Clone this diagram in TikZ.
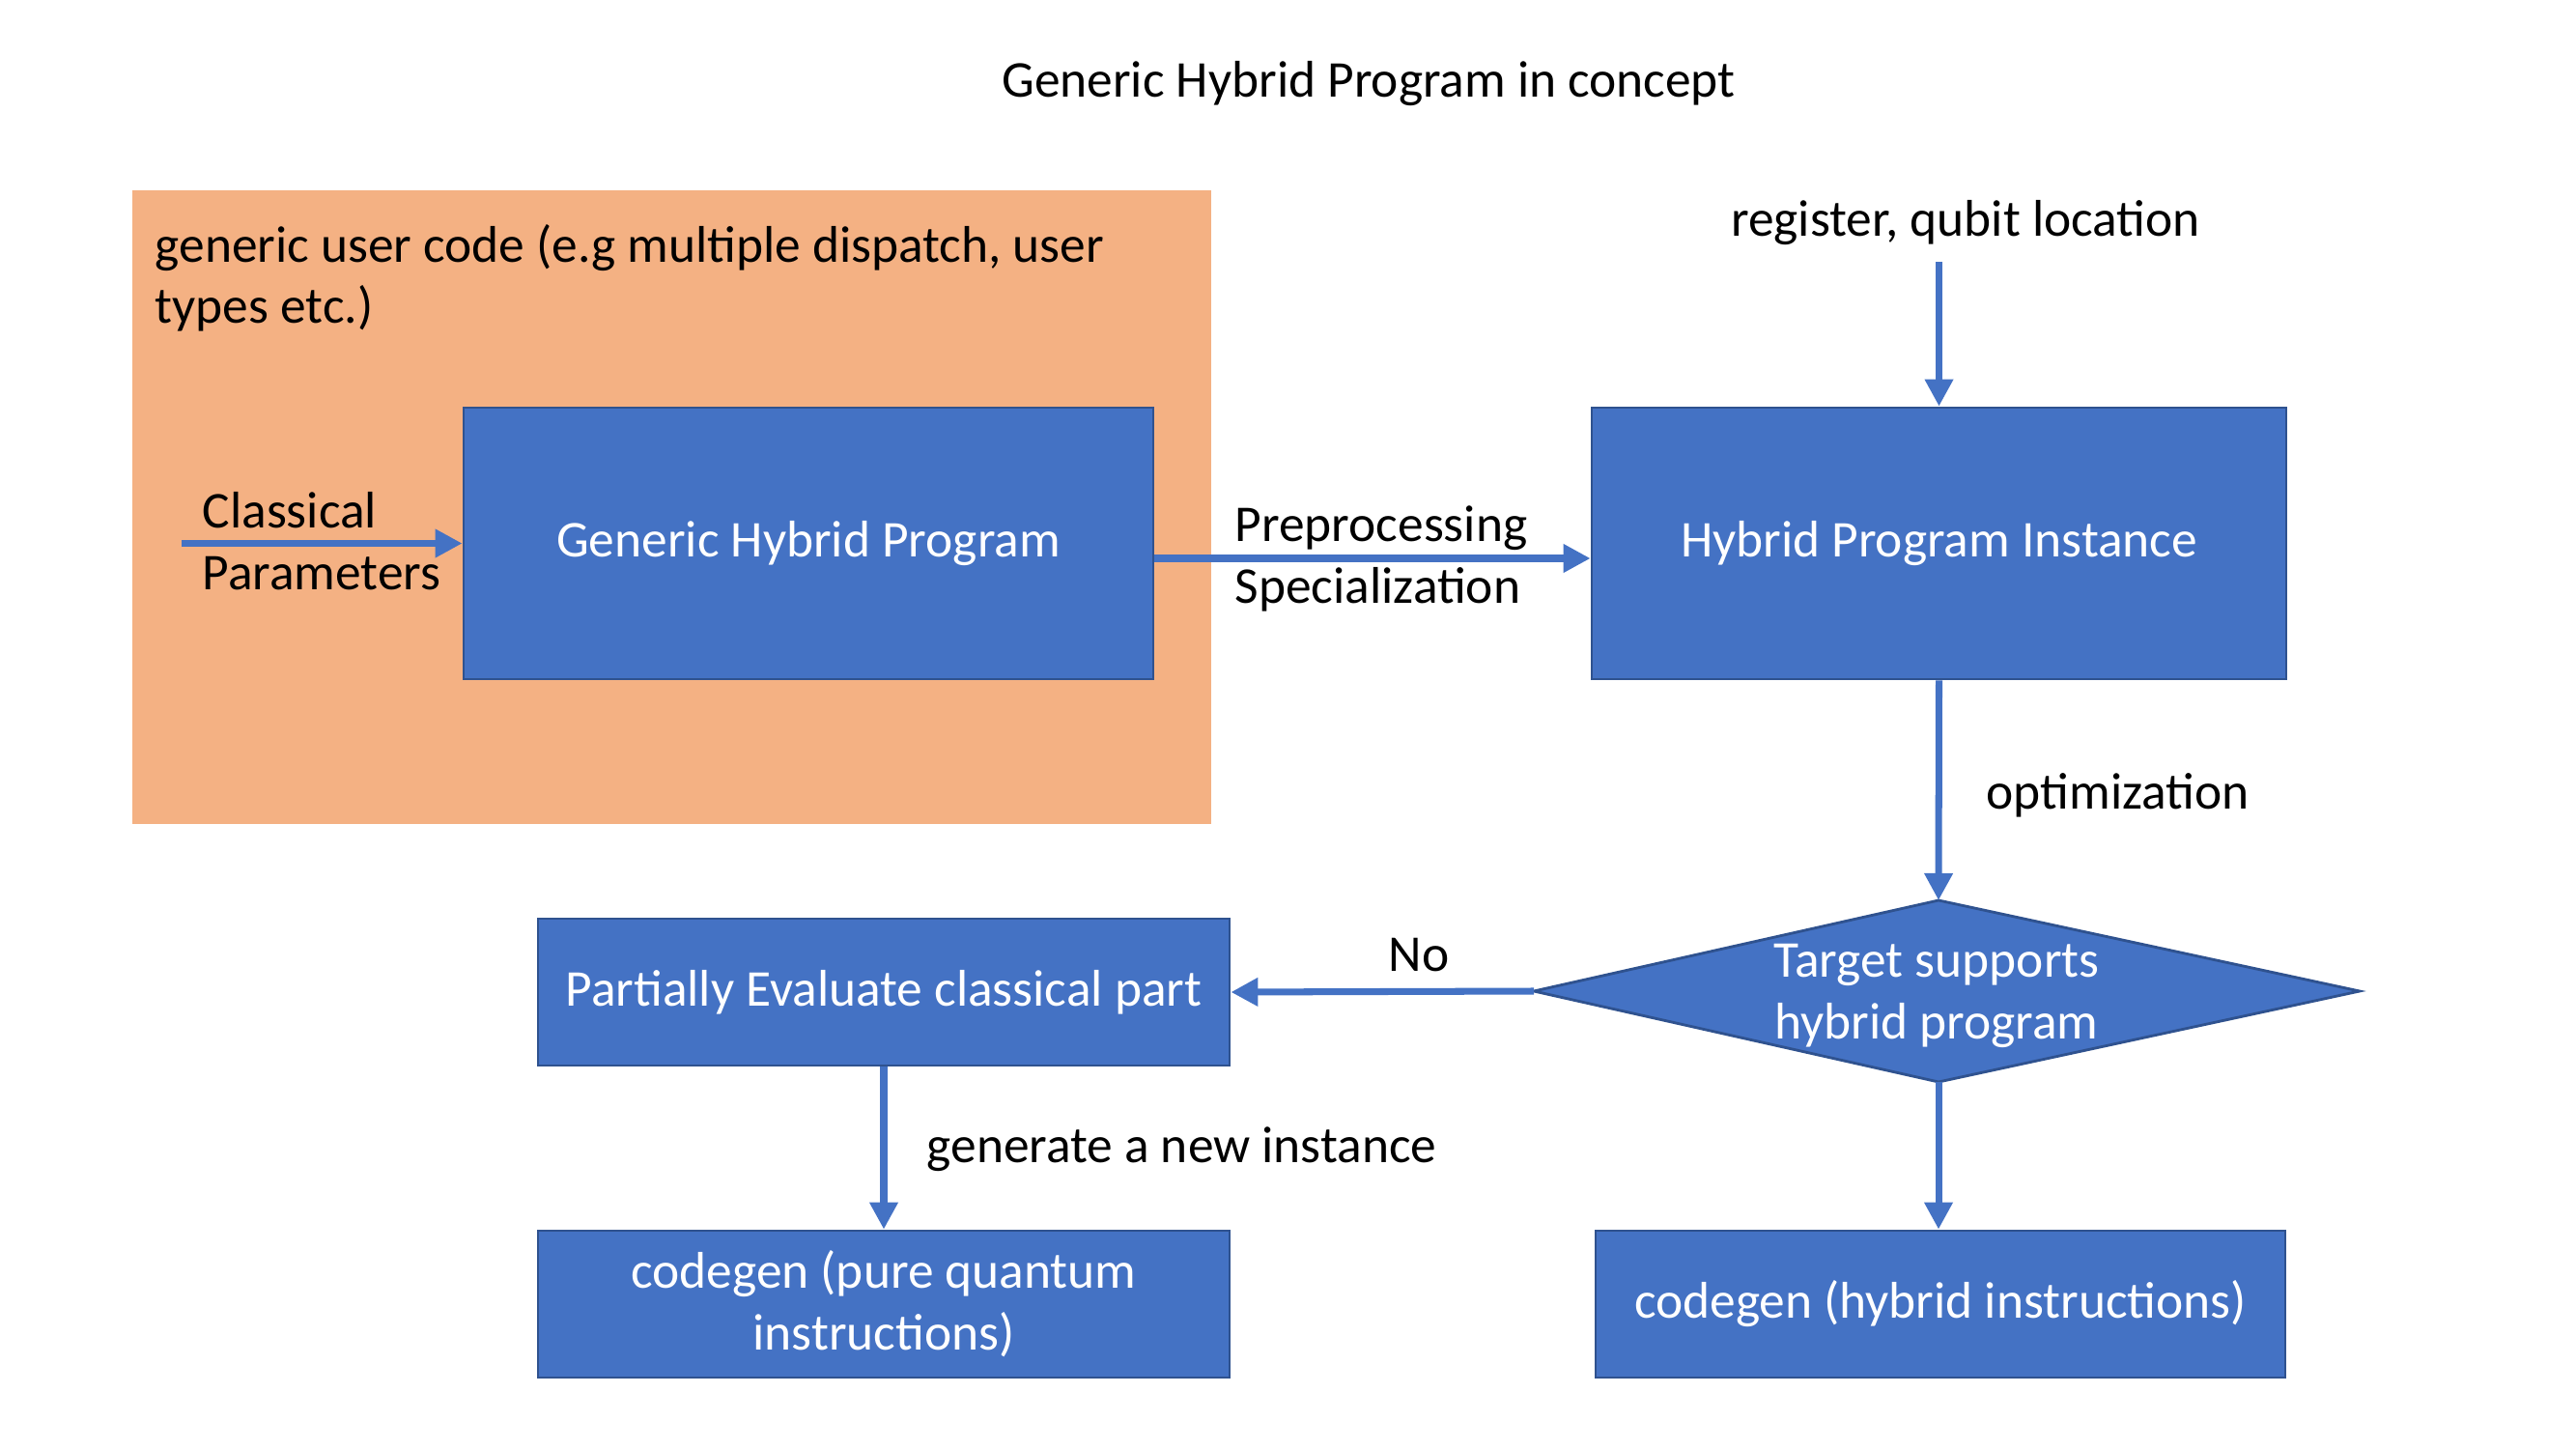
\documentclass[tikz,border=0pt]{standalone}
\usepackage{fontspec}
\setmainfont{Carlito}
\usepackage{xcolor}
\usetikzlibrary{arrows.meta}

\definecolor{boxblue}{HTML}{4472C4}
\definecolor{boxline}{HTML}{2F528F}
\definecolor{userorange}{HTML}{F4B183}

\tikzset{
  block/.style={draw=boxline, line width=0.8pt, fill=boxblue, text=white, inner sep=0pt, align=center},
  flow/.style={draw=boxblue, line width=2pt, -{Triangle[length=0.28cm,width=0.28cm]}},
  lbl/.style={inner sep=0pt, text=black},
}

\begin{document}
\begin{tikzpicture}[font=\fontsize{15.2}{18.2}\selectfont]
\useasboundingbox (0,0) rectangle (26.67,15);

\node[lbl, anchor=base] (title) at (14.17,13.99) {Generic Hybrid Program in concept};

% user code area
\fill[userorange] (1.37,6.47) rectangle (12.54,13.03);
\node[lbl, anchor=base west, align=left] (user) at (1.60,11.65) {generic user code (e.g multiple dispatch, user\\types etc.)};

% boxes
\node[block, minimum width=7.14cm, minimum height=2.81cm] (ghp) at (8.37,9.375) {Generic Hybrid Program};
\node[block, minimum width=7.19cm, minimum height=2.81cm] (hpi) at (20.075,9.375) {Hybrid Program Instance};
\node[block, minimum width=7.16cm, minimum height=1.52cm] (pe) at (9.15,4.73) {Partially Evaluate classical part};
\node[block, minimum width=7.16cm, minimum height=1.52cm] (cgq) at (9.15,1.50) {codegen (pure quantum\\instructions)};
\node[block, minimum width=7.14cm, minimum height=1.52cm] (cgh) at (20.09,1.50) {codegen (hybrid instructions)};

% decision
\coordinate (dn) at (20.07,5.68);
\coordinate (ds) at (20.07,3.80);
\coordinate (dw) at (15.88,4.74);
\coordinate (de) at (24.43,4.74);
\draw[draw=boxline, line width=0.8pt, fill=boxblue] (dn)--(de)--(ds)--(dw)--cycle;
\node[lbl, text=white, anchor=base, align=center] (dec) at (20.05,4.25) {Target supports\\hybrid program};

% labels
\node[lbl, anchor=base west, align=left] (cpar) at (2.09,8.90) {Classical\\Parameters};
\node[lbl, anchor=base west, align=left] (prep) at (12.78,8.76) {Preprocessing\\Specialization};
\node[lbl, anchor=base] (reg) at (20.35,12.55) {register, qubit location};
\node[lbl, anchor=base west] (opt) at (20.56,6.63) {optimization};
\node[lbl, anchor=base west] (no) at (14.37,4.95) {No};
\node[lbl, anchor=base west] (gen) at (9.59,2.97) {generate a new instance};

% arrows
\coordinate (cin) at (1.88,9.375);
\coordinate (rin) at (20.075,12.29);
\draw[flow] (cin) -- (ghp.west);
\draw[flow] ([yshift=-0.155cm]ghp.east) -- ([yshift=-0.155cm]hpi.west);
\draw[flow] (rin) -- (hpi.north);
\draw[flow] (hpi.south) -- (dn);
\draw[flow] (dw) -- (pe.east);
\draw[flow] (pe.south) -- (cgq.north);
\draw[flow] (ds) -- (ds |- cgh.north);

\end{tikzpicture}
\end{document}
